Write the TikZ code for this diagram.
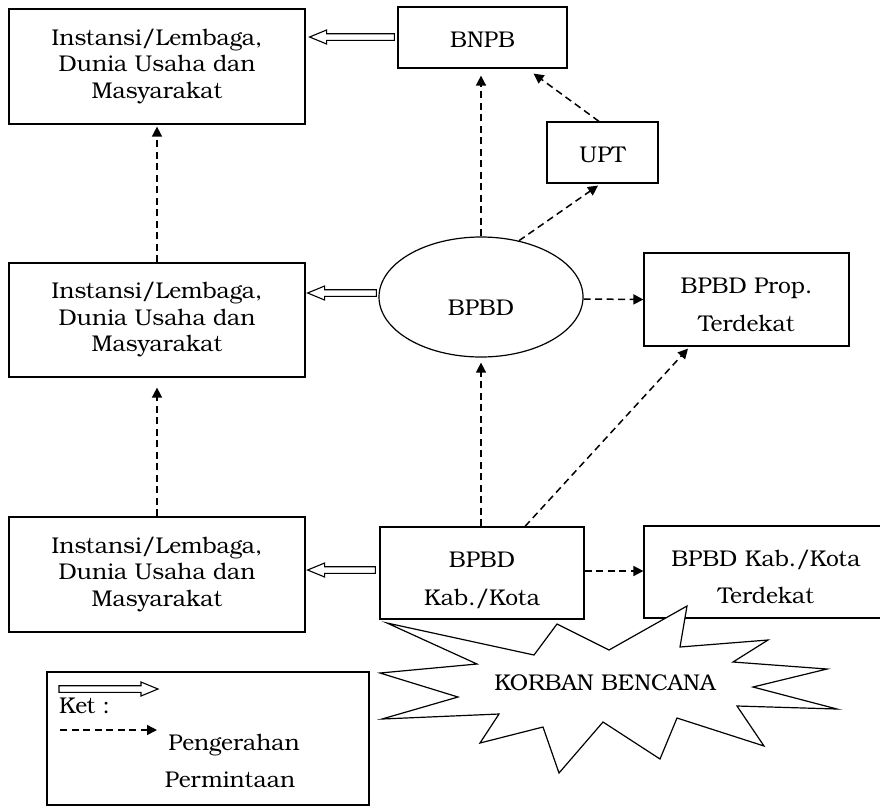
\documentclass[tikz,border=0pt]{standalone}
\usepackage{fontspec}
\setmainfont{TeX Gyre Bonum}
\usetikzlibrary{arrows.meta,calc,shapes.geometric}
\tikzset{
  box/.style={draw, line width=1.2pt, rectangle, inner sep=0pt},
  txt/.style={font=\fontsize{22.8}{26.5}\selectfont, inner sep=0pt, align=center},
  dasharr/.style={line width=1.5pt, dash pattern=on 7pt off 4.5pt, -{Triangle[length=10pt,width=10pt]}},
  hollow/.style={line width=1.1pt, fill=white, line join=miter},
}
\newcommand{\hollowarr}[2]{%
  \draw[hollow] let \p1=#1, \p2=#2, \n1={(\x2>\x1)?1:-1} in
    (\x1,\y1+3.3pt) -- (\x2-\n1*17pt,\y1+3.3pt) -- (\x2-\n1*17pt,\y1+7pt) --
    (\x2,\y1) -- (\x2-\n1*17pt,\y1-7pt) -- (\x2-\n1*17pt,\y1-3.3pt) --
    (\x1,\y1-3.3pt) -- cycle;}
\begin{document}
\begin{tikzpicture}[x=1pt,y=-1pt]
\useasboundingbox (0,0) rectangle (880,807);

% boxes
\node[box, txt, minimum width=296, minimum height=115] (i1) at (157,66.5) {Instansi/Lembaga,\\Dunia Usaha dan\\Masyarakat};
\node[box, minimum width=169, minimum height=61] (bnpb) at (482.5,37.5) {};
\node[txt, anchor=base] (bnpbt) at (482.5,47) {BNPB};
\node[box, minimum width=111, minimum height=61] (upt) at (602.5,152.5) {};
\node[txt, anchor=base] (uptt) at (602.5,162) {UPT};
\node[draw, ellipse, line width=1.2pt, minimum width=204, minimum height=120, inner sep=0pt] (bpbd) at (481,297) {};
\node[txt, anchor=base] (bpbdt) at (481,315) {BPBD};
\node[box, minimum width=205, minimum height=93] (prop) at (746.5,299.5) {};
\node[txt, anchor=base] (propt1) at (746.5,293) {BPBD Prop.};
\node[txt, anchor=base] (propt2) at (746.5,331) {Terdekat};
\node[box, txt, minimum width=296, minimum height=114] (i2) at (157,320) {Instansi/Lembaga,\\Dunia Usaha dan\\Masyarakat};
\node[box, txt, minimum width=296, minimum height=115] (i3) at (157,574.5) {Instansi/Lembaga,\\Dunia Usaha dan\\Masyarakat};
\node[box, minimum width=204, minimum height=92] (kab) at (482,573) {};
\node[txt, anchor=base] (kabt1) at (482,567) {BPBD};
\node[txt, anchor=base] (kabt2) at (482,605) {Kab./Kota};
\node[box, minimum width=244, minimum height=92] (kabt) at (766,572) {};
\node[txt, anchor=base] (kabtt1) at (766,566) {BPBD Kab./Kota};
\node[txt, anchor=base] (kabtt2) at (766,603) {Terdekat};

% starburst
\draw[line width=1.2pt, fill=white, line join=miter]
  (387,623) -- (534,655) -- (557,624) -- (609,650) -- (687,606) -- (680,647) --
  (768,640) -- (733,662) -- (827,669) -- (753,687) -- (837,709) -- (737,706) --
  (764,746) -- (677,718) -- (660,759) -- (603,722) -- (559,773) -- (543,727) --
  (480,743) -- (499,714) -- (382,719) -- (458,697) -- (380,673) -- (477,664) -- cycle;
\node[txt, anchor=base] (korban) at (605,690) {KORBAN BENCANA};

% dashed connectors
\draw[dasharr, shorten >=7pt] (bpbd.north) -- (bnpb.south -| bpbd.north);
\draw[dasharr] ($(upt.north)+(-3.5,0)$) -- ($(bnpb.south east)+(-34,5)$);
\draw[dasharr] (bpbd.56) -- ($(upt.south)+(-4.5,2)$);
\draw[dasharr] ($(bpbd.east)+(0,2)$) -- (prop.west);
\draw[dasharr, shorten >=5pt] (kab.north -| bpbd.south) -- (bpbd.south);
\draw[dasharr] ($(kab.north)+(43,0)$) -- ($(prop.south)+(-58.5,2)$);
\draw[dasharr] ($(kab.east)+(0,-2)$) -- ($(kabt.west)+(0,-1)$);
\draw[dasharr, shorten >=10pt] (i3.north) -- (i2.south);
\draw[dasharr, shorten >=2pt] (i2.north) -- (i1.south);

% hollow arrows
\hollowarr{($(bnpb.west)+(-3,-0.5)$)}{($(i1.east)+(4,0)$)}
\hollowarr{($(bpbd.west)+(-2,-4)$)}{($(i2.east)+(2,0)$)}
\hollowarr{($(kab.west)+(-4,-3)$)}{($(i3.east)+(2,0)$)}

% legend
\node[box, minimum width=322, minimum height=133] (legend) at (208,738.5) {};
\coordinate (la1) at (59,689);
\coordinate (la2) at (158,689);
\hollowarr{(la1)}{(la2)}
\node[txt, anchor=base west] (ket) at (59,713) {Ket :};
\coordinate (ld1) at (60,730);
\coordinate (ld2) at (157,730);
\draw[dasharr] (ld1) -- (ld2);
\node[txt, anchor=base] (peng) at (234,750) {Pengerahan};
\node[txt, anchor=base] (perm) at (230,787) {Permintaan};
\end{tikzpicture}
\end{document}
